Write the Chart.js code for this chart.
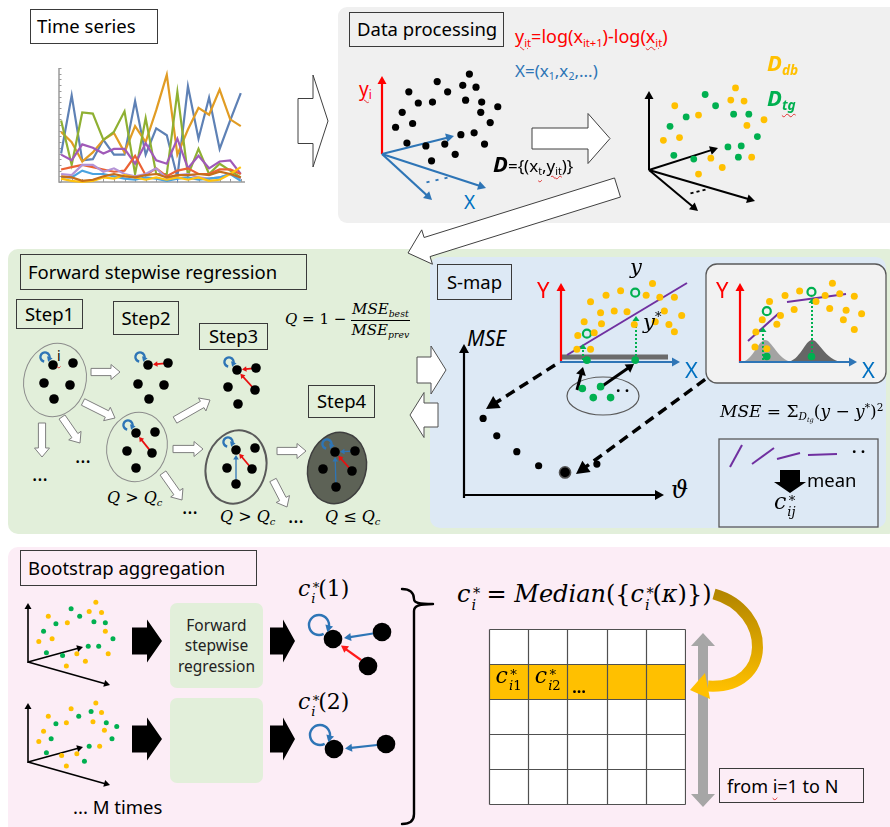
<!DOCTYPE html>
<html><head><meta charset="utf-8">
<script src="https://cdn.jsdelivr.net/npm/chart.js@4.4.1/dist/chart.umd.min.js"></script>
<style>
html,body{margin:0;padding:0;background:#fff;}
#root{position:relative;width:890px;height:827px;overflow:hidden;font-family:'Noto Sans',sans-serif;color:#000;}
.panel{position:absolute;z-index:0;}
#deco{position:absolute;left:0;top:0;z-index:1;}
canvas{position:absolute;z-index:2;}
.t{position:absolute;z-index:3;white-space:nowrap;line-height:1;transform:translateY(-50%);}
.box{position:absolute;z-index:3;border:1px solid #3a3a3a;box-sizing:border-box;font-size:18.5px;display:flex;align-items:center;white-space:nowrap;line-height:1;}
.m{font-family:'DejaVu Serif',serif;font-style:italic;}
sub{font-size:0.62em;vertical-align:-0.32em;line-height:0;}
sup{font-size:0.62em;vertical-align:0.6em;line-height:0;}
.ss{display:inline-block;position:relative;font-size:0.6em;line-height:1;vertical-align:-0.55em;margin-left:1px;margin-right:0.2em;font-style:normal;}
.ss>.a{position:absolute;left:0.1em;top:-0.85em;}
.sq{text-decoration:underline wavy #e03030;text-decoration-thickness:1px;text-underline-offset:3px;}
.frac{display:inline-flex;flex-direction:column;align-items:center;vertical-align:middle;}
.frac>span:first-child{border-bottom:1px solid #000;padding:0 1px 3px;}
.frac>span:last-child{padding-top:2px;}
</style></head>
<body><div id="root">
<div class="panel" style="left:338px;top:7px;width:560px;height:216px;background:#f0f0f0;border-radius:9px"></div>
<div class="panel" style="left:8px;top:249px;width:890px;height:285px;background:#e2efda;border-radius:10px"></div>
<div class="panel" style="left:430px;top:257px;width:456px;height:271px;background:#dde9f5;border-radius:10px"></div>
<div class="panel" style="left:8px;top:547px;width:890px;height:300px;background:#fcedf6;border-radius:10px"></div>
<svg id="deco" width="890" height="827"></svg>
</div>
<script>
// ================= DATA =================
// Time series panel: 18 time steps, 9 species (arbitrary abundance units 0-100)
const timeSteps = [1,2,3,4,5,6,7,8,9,10,11,12,13,14,15,16,17,18];
const tsYTicks = [0,5,10,15,20,25,30,35,40,45,50,55,60,65,70,75,80,85,90,95,100];
const tsBlue     = [25,76,19,20,37,24,24,71,24,47,41,4,84,38,74,29,54,78];
const tsOrange   = [44,35,18,26,37,43,26,49,35,63,94,24,46,65,59,81,55,49];
const tsGreen    = [54,15,61,60,37,44,62,7,56,7,7,79,6,29,7,16,10,4];
const tsPurple   = [24,19,33,30,25,29,29,16,34,19,16,38,12,23,12,18,19,7];
const tsRed      = [11,13,15,13,11,9,10,23,6,12,5,10,12,7,7,11,11,7];
const tsLavender = [7,6,15,15,9,12,7,5,7,12,3,6,7,4,3,4,7,3];
const tsSky      = [4,4,10,7,7,5,3,2,4,3,1,3,4,2,3,4,7,1];
const tsYellow   = [3,1,0,1,4,3,6,4,2,4,2,4,2,4,1,2,7,13];
const tsBrown    = [5,4,1,2,5,7,5,4,6,7,4,6,6,7,6,9,7,4];

// Data processing: embedded points D = {(x_t, y_it)} (local plot units)
const embedPts = [[89,83],[55,75],[25,64],[66,64],[82,71],[96,69],[35,52],[50,53],[85,55],[102,53],[119,48],[18,42],[101,42],[11,26],[29,30],[111,31],[80,18],[94,20],[23,9],[43,6],[63,8],[105,8],[74,-3],[49,-10]];
// split into database (D_db) and target (D_tg)
const dbPts = [[88,85],[83,72],[97,71],[24,66],[49,56],[118,51],[100,45],[12,29],[29,32],[62,10],[105,11],[74,0],[49,-7]];
const tgPts = [[56,78],[67,66],[86,57],[36,54],[102,57],[19,44],[111,33],[80,22],[94,23],[23,13],[44,9],[91,11]];

// S-map: MSE vs theta
const msePts = [[14,82],[29,61],[51,42],[75,25],[104,17],[139,27]];
const mseSize = [3.6,3.6,3.6,3.6,5.6,3.6];
// S-map middle plot (global linear fit)
const smapDb = [[94,84],[59,76],[43,71],[87,71],[102,69],[118,69],[26,64],[52,54],[37,52],[66,53],[107,54],[126,49],[19,42],[38,40],[97,42],[74,39],[112,39],[12,27],[30,30],[118,31],[11,12],[26,12]];
const smapObs = [[75,74],[22,29]];
const smapTgX = [[22,0],[75,0]];
const smapCloud = [[17,-31],[37,-29],[29,-41],[48,-41]];
// S-map inset (local weighted fit)
const insetDb = [[95,84],[43,70],[59,75],[87,70],[103,72],[119,69],[26,63],[77,63],[92,55],[53,54],[110,53],[127,49],[18,42],[38,47],[107,42],[34,37],[119,31],[11,28],[10,11],[23,9]];
const insetObs = [[23,52],[72,74]];
const insetTgX = [[23,0],[72,0]];

// Bootstrap resamples
const boot1Db = [[69,62],[19,47],[62,52],[75,51],[39,40],[79,31],[9,20],[23,23],[82,7],[49,7],[58,-1],[38,-6]];
const boot1Tg = [[43,55],[52,47],[27,39],[67,41],[79,40],[14,31],[87,23],[17,8],[34,5],[61,15],[72,15]];
const boot2Db = [[69,61],[43,55],[75,51],[19,47],[38,40],[66,41],[14,31],[78,32],[9,20],[33,5],[49,7],[73,15],[38,-6]];
const boot2Tg = [[64,52],[51,47],[27,39],[80,40],[91,36],[22,23],[86,23],[17,8],[62,15],[57,-1]];

// Interaction matrix c*_ij
const matrixCols = 5, matrixRows = 5, matrixHighlightRow = 1;
const matrixCellLabels = [[0,1,'i1'],[1,1,'i2'],[2,1,'…']];

// ================= HELPERS =================
const root = document.getElementById('root');
Chart.defaults.font.family = "'Noto Sans', sans-serif";
const f = v => (+v).toFixed(2);
let svg = '';

function mk(rect, xr, yr, type, datasets, extra = {}) {
  const c = document.createElement('canvas');
  c.width = rect[2]; c.height = rect[3];
  c.style.left = rect[0] + 'px'; c.style.top = rect[1] + 'px';
  root.appendChild(c);
  return new Chart(c, { type, data: { datasets }, options: {
    responsive: false, animation: false, events: [], devicePixelRatio: 1,
    layout: { padding: extra.padding || 0 },
    plugins: { legend: { display: false }, tooltip: { enabled: false } },
    scales: { x: { type: 'linear', display: false, min: xr[0], max: xr[1] },
              y: { type: 'linear', display: false, min: yr[0], max: yr[1], reverse: !!extra.reverse } } },
    plugins: extra.plugins || [] });
}
function dots(pts, r, col, hollow) {
  return { data: pts.map(p => ({ x: p[0], y: p[1] })), showLine: false,
    pointRadius: r, pointHoverRadius: r, backgroundColor: hollow ? 'rgba(0,0,0,0)' : col,
    borderColor: col, borderWidth: hollow ? 2.2 : 0, clip: false };
}
function plotAt(ox, oy, xmin, xmax, ymin, ymax, datasets) {
  return mk([ox + xmin, oy - ymax, xmax - xmin, ymax - ymin], [xmin, xmax], [ymin, ymax], 'scatter', datasets);
}
function line(x1, y1, x2, y2, col, w, extra = '') {
  svg += `<line x1="${f(x1)}" y1="${f(y1)}" x2="${f(x2)}" y2="${f(y2)}" stroke="${col}" stroke-width="${w}" ${extra}/>`;
}
function arrow(x1, y1, x2, y2, col, w, hl, hw, extra = '') {
  const dx = x2 - x1, dy = y2 - y1, L = Math.hypot(dx, dy), ux = dx / L, uy = dy / L, nx = -uy, ny = ux;
  const bx = x2 - ux * hl, by = y2 - uy * hl;
  line(x1, y1, bx + ux, by + uy, col, w, extra);
  svg += `<polygon points="${f(x2)},${f(y2)} ${f(bx + nx * hw)},${f(by + ny * hw)} ${f(bx - nx * hw)},${f(by - ny * hw)}" fill="${col}"/>`;
}
function block(x1, y1, x2, y2, sh, hh, hl, fill, stroke, sw) {
  const dx = x2 - x1, dy = y2 - y1, L = Math.hypot(dx, dy), ux = dx / L, uy = dy / L, nx = -uy, ny = ux;
  const bx = x2 - ux * hl, by = y2 - uy * hl;
  const p = [[x1 + nx * sh, y1 + ny * sh], [bx + nx * sh, by + ny * sh], [bx + nx * hh, by + ny * hh], [x2, y2],
             [bx - nx * hh, by - ny * hh], [bx - nx * sh, by - ny * sh], [x1 - nx * sh, y1 - ny * sh]];
  svg += `<polygon points="${p.map(q => f(q[0]) + ',' + f(q[1])).join(' ')}" fill="${fill}" stroke="${stroke}" stroke-width="${sw}"/>`;
}
function loop(cx, cy, r, a0, a1, col, w, hl, hw) {
  const R = Math.PI / 180, s0 = a0 * R, s1 = a1 * R;
  const sx = cx + r * Math.cos(s0), sy = cy + r * Math.sin(s0), ex = cx + r * Math.cos(s1), ey = cy + r * Math.sin(s1);
  const large = (a1 - a0) > 180 ? 1 : 0;
  svg += `<path d="M${f(sx)} ${f(sy)} A${r} ${r} 0 ${large} 1 ${f(ex)} ${f(ey)}" fill="none" stroke="${col}" stroke-width="${w}"/>`;
  const tx = -Math.sin(s1), ty = Math.cos(s1), nx = -ty, ny = tx;
  const tipx = ex + tx * hl * 0.7, tipy = ey + ty * hl * 0.7, bx = ex - tx * hl * 0.3, by = ey - ty * hl * 0.3;
  svg += `<polygon points="${f(tipx)},${f(tipy)} ${f(bx + nx * hw)},${f(by + ny * hw)} ${f(bx - nx * hw)},${f(by - ny * hw)}" fill="${col}"/>`;
}
function T(x, y, html, css = '', center = false) {
  const d = document.createElement('div'); d.className = 't';
  d.style.cssText = `left:${x}px;top:${y}px;` + css + (center ? ';transform:translate(-50%,-50%)' : '');
  d.innerHTML = html; root.appendChild(d); return d;
}
function box(x, y, w, h, html, css = '') {
  const d = document.createElement('div'); d.className = 'box';
  d.style.cssText = `left:${x}px;top:${y}px;width:${w}px;height:${h}px;` + css;
  d.innerHTML = '<span>' + html + '</span>'; root.appendChild(d); return d;
}
// c with stacked superscript * and subscript
const cs = (sub) => `<span class="m">c</span><span class="ss"><span class="a">*</span><span class="m">${sub}</span></span>`;

const RED = '#ff0000', BLUE = '#2e75b6', XBLUE = '#0070c0', GOLD = '#ffc000', GREEN = '#00b050', PURPLE = '#7030a0';

// ================= SVG DECORATION =================
svg += `<defs><linearGradient id="gold" x1="716" y1="592" x2="712" y2="690" gradientUnits="userSpaceOnUse"><stop offset="0" stop-color="#b38600"/><stop offset="1" stop-color="#ffc000"/></linearGradient></defs>`;
block(298, 121, 328, 121, 22.5, 46, 15, '#fff', '#404040', 1);
arrow(382, 154, 382, 76, RED, 2.2, 8, 4.5);
arrow(382, 154, 454, 136, BLUE, 2.2, 8, 4.5);
arrow(382, 154, 486, 188, BLUE, 2.2, 8, 4.5);
arrow(382, 154, 432, 200, BLUE, 2.2, 8, 4.5);
[[428, 182], [437, 180], [446, 178]].forEach(p => line(p[0] - 1.5, p[1] + 0.4, p[0] + 1.5, p[1] - 0.4, BLUE, 2));
block(532, 138.5, 610, 138.5, 10.5, 25, 22, '#fff', '#404040', 1);
arrow(649, 170, 649, 91, '#000', 2, 8, 4.5);
arrow(649, 170, 718, 148, '#000', 2, 8, 4.5);
arrow(649, 170, 755, 201, '#000', 2, 8, 4.5);
arrow(649, 170, 698, 211, '#000', 2, 8, 4.5);
[[692, 193], [698, 191.5], [704, 190]].forEach(p => line(p[0] - 1.5, p[1] + 0.4, p[0] + 1.5, p[1] - 0.4, '#000', 2));
block(617.5, 187.5, 408, 253, 10, 18, 20, '#fff', '#404040', 1);

// Forward stepwise regression graphs
const GRAPHS = [
  { n: [[53,365],[73,363],[44,383],[70,385],[54,399]], ell: [55,380,31,37,'none','#8c8c8c',1], red: [], blue: [] },
  { n: [[148,365],[168,363],[138,384],[164,385],[149,399]], ell: null, red: [[1,0]], blue: [] },
  { n: [[237,370],[256,368],[228,387],[255,390],[238,404]], ell: null, red: [[1,0],[3,0]], blue: [] },
  { n: [[136,433],[155,432],[127,451],[152,453],[136,468]], ell: [137,447,30,35,'none','#8c8c8c',1], red: [[3,0]], blue: [] },
  { n: [[236,450],[255,448],[227,468],[252,469],[236,484]], ell: [236,467,30,37,'none','#5a5a5a',2], red: [[3,0]], blue: [[4,0]] },
  { n: [[335,452],[355,451],[323,469],[352,471],[336,487]], ell: [337,468,29,36,'#5d6256','#3f3f3f',1.5], red: [[3,0]], blue: [[1,0],[4,0]] }
];
function edge(a, b, col, w) {
  const dx = b[0] - a[0], dy = b[1] - a[1], L = Math.hypot(dx, dy), ux = dx / L, uy = dy / L;
  arrow(a[0] + ux * 3, a[1] + uy * 3, b[0] - ux * 5, b[1] - uy * 5, col, w, 4.5, 2.8);
}
GRAPHS.forEach(g => {
  if (g.ell) { const e = g.ell; svg += `<ellipse cx="${e[0]}" cy="${e[1]}" rx="${e[2]}" ry="${e[3]}" fill="${e[4]}" stroke="${e[5]}" stroke-width="${e[6]}" transform="rotate(15 ${e[0]} ${e[1]})"/>`; }
  g.red.forEach(p => edge(g.n[p[0]], g.n[p[1]], '#e81010', 1.8));
  g.blue.forEach(p => edge(g.n[p[0]], g.n[p[1]], BLUE, 1.3));
  g.n.forEach(p => { svg += `<circle cx="${p[0]}" cy="${p[1]}" r="4.8" fill="#000"/>`; });
  loop(g.n[0][0] - 8, g.n[0][1] - 8, 4.6, 100, 380, BLUE, 2.4, 5, 3);
});
const SA = ['#fff', '#7f7f7f', 1];
[[91,372,120,372],[83,402,115,418],[42,423,42,457],[62,417,80,443],[175,420,210,400],[173,449,203,449],[163,473,182,500],[277,451,306,451],[273,480,287,507]]
  .forEach(a => block(a[0], a[1], a[2], a[3], 3.6, 7.5, 9, ...SA));
block(417, 370, 446, 370, 13, 24, 15, '#fff', '#505050', 1);
block(438, 415, 410, 415, 12, 22.5, 14, '#fff', '#505050', 1);

// S-map
arrow(464, 498, 464, 344, '#000', 2.2, 9, 5);
arrow(463, 495, 664, 495, '#000', 2.2, 9, 5);
arrow(555, 365, 486, 409, '#000', 3.5, 13, 7, 'stroke-dasharray="10,6"');
arrow(718, 370, 576, 474, '#000', 3.5, 13, 7, 'stroke-dasharray="10,6"');
svg += `<rect x="562" y="354.5" width="106" height="5" fill="#6b6b6b"/>`;
arrow(561, 363, 561, 283, RED, 2.2, 8, 4.5);
arrow(560, 362, 680, 362, BLUE, 2.2, 8, 4.5);
line(567, 355, 687, 283, PURPLE, 2);
arrow(583, 360, 583, 344, GREEN, 2, 5, 3.5, 'stroke-dasharray="2,2"');
arrow(636, 360, 636, 316, GREEN, 2, 5, 3.5, 'stroke-dasharray="2,2"');
svg += `<ellipse cx="603" cy="396" rx="36" ry="19" fill="none" stroke="#595959" stroke-width="1.2"/>`;
arrow(577, 390, 583, 367, '#000', 3, 8, 5);
arrow(598, 389, 634, 364, '#000', 3, 8, 5);
svg += `<rect x="706" y="264" width="180" height="119" rx="11" fill="#f2f2f2" stroke="#595959" stroke-width="1.3"/>`;
svg += `<path d="M741 362 C753 361 758 340 765 340 C772 340 778 360 792 362 Z" fill="#a3a3a3"/>`;
svg += `<path d="M787 362 C800 361 805 340 812 340 C819 340 825 360 842 362 Z" fill="#666"/>`;
arrow(740, 363, 740, 283, RED, 2.2, 8, 4.5);
arrow(739, 362, 857, 362, BLUE, 2.2, 8, 4.5);
line(748, 341, 779, 313, PURPLE, 2);
line(787, 302, 846, 294, PURPLE, 2);
arrow(763, 360, 763, 327, GREEN, 2, 5, 3.5, 'stroke-dasharray="2,2"');
arrow(812, 360, 812, 298, GREEN, 2, 5, 3.5, 'stroke-dasharray="2,2"');
svg += `<rect x="719" y="439" width="159" height="88" fill="none" stroke="#595959" stroke-width="1.3"/>`;
[[730,467,742,445],[752,464,774,448],[777,459,800,453],[808,455,837,454]].forEach(s => line(s[0], s[1], s[2], s[3], PURPLE, 2));
block(790, 470, 790, 493, 10, 16, 11, '#000', 'none', 0);

// Bootstrap
[[28, 662], [28, 762]].forEach(o => {
  arrow(o[0], o[1] + 1, o[0], o[1] - 59, '#000', 1.6, 6, 3.5);
  arrow(o[0], o[1], o[0] + 55, o[1] - 15, '#000', 1.6, 6, 3.5);
  arrow(o[0], o[1], o[0] + 82, o[1] + 23, '#000', 1.6, 6, 3.5);
});
[641, 739].forEach(y => {
  block(132, y, 162, y, 13.5, 21.5, 15, '#000', 'none', 0);
  block(270, y, 295, y, 13.5, 21.5, 12, '#000', 'none', 0);
});
svg += `<rect x="170" y="603" width="93" height="85" rx="7" fill="#e2efda"/>`;
svg += `<rect x="170" y="698" width="93" height="85" rx="7" fill="#e2efda"/>`;
arrow(373, 633.5, 344, 638, BLUE, 2.2, 7, 4);
arrow(361, 660, 341, 645.5, '#ff1a1a', 2.2, 7, 4);
arrow(377, 745, 345, 748.5, BLUE, 2.2, 7, 4);
[[333,639],[382,632],[368,666],[334,749],[386,744]].forEach(p => { svg += `<circle cx="${p[0]}" cy="${p[1]}" r="9.3" fill="#000"/>`; });
loop(319, 625, 10, 62, 375, BLUE, 2.4, 7, 4);
loop(320, 735, 10, 62, 375, BLUE, 2.4, 7, 4);
svg += `<path d="M402 589 C410 589 414 593 414 599 C414 603 419 604 433 604 M433 604 C419 604 414 606 414 611 L414 814 C414 821 410 824 402 824" fill="none" stroke="#000" stroke-width="2.4" stroke-linecap="round"/>`;
svg += `<polygon points="703,633 715,646 708,646 708,794 715,794 703,807 691,794 698,794 698,646 691,646" fill="#a6a6a6"/>`;
svg += `<path d="M714 594 C772 610 774 690 708 686" fill="none" stroke="url(#gold)" stroke-width="11"/>`;
svg += `<polygon points="690,690 705,673 710,699" fill="#ffc000"/>`;

document.getElementById('deco').innerHTML = svg;

// ================= CHARTS =================
const tsAxes = { id: 'tsAxes', beforeDatasetsDraw(ch) {
  const { ctx, chartArea: a, scales: { x, y } } = ch;
  ctx.save(); ctx.strokeStyle = '#9a9a9a'; ctx.lineWidth = 1.5; ctx.beginPath();
  ctx.moveTo(a.left, a.top); ctx.lineTo(a.left, a.bottom); ctx.lineTo(a.right, a.bottom); ctx.stroke();
  ctx.lineWidth = 1; ctx.beginPath();
  tsYTicks.forEach(v => { const py = Math.round(y.getPixelForValue(v)) + 0.5; ctx.moveTo(a.left, py); ctx.lineTo(a.left + 2.5, py); });
  timeSteps.forEach((t, i) => { const px = Math.round(x.getPixelForValue(i)) + 0.5; ctx.moveTo(px, a.bottom); ctx.lineTo(px, a.bottom - 3); });
  ctx.stroke(); ctx.restore(); } };
const tsSeries = [[tsBlue,'#5e81b5'],[tsOrange,'#e19c24'],[tsGreen,'#8fb032'],[tsPurple,'#a05ab8'],[tsRed,'#eb6235'],[tsLavender,'#b493d6'],[tsSky,'#4aa3df'],[tsYellow,'#ffc20e'],[tsBrown,'#c56e1a']];
mk([50, 60, 200, 126], [-0.2, 17.4], [0, 100], 'scatter',
  tsSeries.slice().reverse().map(s => ({ data: s[0].map((v, i) => ({ x: i, y: v })), showLine: true, borderColor: s[1], borderWidth: 2.2, pointRadius: 0, tension: 0, clip: false })),
  { padding: { left: 9, top: 8, right: 5, bottom: 4 }, plugins: [tsAxes] });

plotAt(382, 154, -8, 126, -16, 90, [dots(embedPts, 3.6, '#000')]);
plotAt(649, 170, -8, 126, -14, 92, [dots(dbPts, 3.4, GOLD), dots(tgPts, 3.4, GREEN)]);
plotAt(464, 495, -8, 150, 8, 92, [{ ...dots(msePts, 3.6, '#000'), pointRadius: mseSize, borderColor: '#555', borderWidth: [0,0,0,0,1.5,0] }]);
plotAt(561, 362, -4, 136, -50, 92, [dots(smapDb, 3.5, GOLD), dots(smapObs, 4, GREEN, true), dots(smapTgX, 3.8, GREEN), dots(smapCloud, 3.8, GREEN)]);
plotAt(740, 362, -4, 136, -6, 92, [dots(insetDb, 3.5, GOLD), dots(insetObs, 4, GREEN, true), dots(insetTgX, 3.8, GREEN)]);
plotAt(28, 662, -5, 96, -12, 68, [dots(boot1Db, 2.5, GOLD), dots(boot1Tg, 2.5, GREEN)]);
plotAt(28, 762, -5, 96, -12, 68, [dots(boot2Db, 2.5, GOLD), dots(boot2Tg, 2.5, GREEN)]);

const gridPlugin = { id: 'matrix', beforeDatasetsDraw(ch) {
  const { ctx, scales: { x, y } } = ch;
  const X = v => Math.round(x.getPixelForValue(v)) + 0.5, Y = v => Math.round(y.getPixelForValue(v)) + 0.5;
  ctx.save(); ctx.fillStyle = '#fff'; ctx.fillRect(X(0), Y(0), X(matrixCols) - X(0), Y(matrixRows) - Y(0));
  ctx.fillStyle = '#ffc000'; ctx.fillRect(X(0), Y(matrixHighlightRow), X(matrixCols) - X(0), Y(matrixHighlightRow + 1) - Y(matrixHighlightRow));
  ctx.strokeStyle = '#505050'; ctx.lineWidth = 1.2; ctx.beginPath();
  for (let i = 0; i <= matrixCols; i++) { ctx.moveTo(X(i), Y(0)); ctx.lineTo(X(i), Y(matrixRows)); }
  for (let j = 0; j <= matrixRows; j++) { ctx.moveTo(X(0), Y(j)); ctx.lineTo(X(matrixCols), Y(j)); }
  ctx.stroke(); ctx.restore(); } };
const gridChart = mk([488, 628, 198, 177], [0, matrixCols], [0, matrixRows], 'scatter', [{ data: [] }], { padding: 1, reverse: true, plugins: [gridPlugin] });
matrixCellLabels.forEach(c => {
  const px = 488 + gridChart.scales.x.getPixelForValue(c[0] + 0.5), py = 628 + gridChart.scales.y.getPixelForValue(c[1] + 0.5);
  if (c[2] === '…') T(px - 8, py + 5, '…', 'font-size:16px;font-weight:bold', true);
  else T(px - 13, py - 3, cs(`i<span style="font-style:normal">${c[2].slice(1)}</span>`), 'font-size:22px;font-family:DejaVu Serif');
});

// ================= TEXT =================
box(30, 9, 128, 35, 'Time series', 'padding-left:6px');
box(349, 12, 155, 35, 'Data processing', 'padding-left:7px');
box(20, 254, 287, 36, 'Forward stepwise regression', 'padding-left:7px');
box(16, 299, 67, 30, 'Step1', 'justify-content:center');
box(113, 301, 66, 34, 'Step2', 'justify-content:center');
box(199, 323, 69, 27, 'Step3', 'justify-content:center');
box(308, 385, 67, 33, 'Step4', 'justify-content:center');
box(437, 264, 75, 36, 'S-map', 'justify-content:center');
box(20, 550, 237, 36, 'Bootstrap aggregation', 'padding-left:7px');
box(719, 768, 145, 35, 'from <span class="sq">i</span>=1 to N', 'padding-left:7px;font-size:18px');

T(515, 36, '<span class="sq">y<sub>it</sub></span>=log(x<sub>it+1</sub>)-log(<span class="sq">x<sub>it</sub></span>)', `color:${RED};font-size:18px`);
T(515, 70, 'X=(x<sub>1</sub>,x<sub>2</sub>,...)', `color:${BLUE};font-size:17px`);
T(767, 62, '<b><i>D<sub>db</sub></i></b>', `color:${GOLD};font-size:22px`);
T(767, 97, '<b><i>D<sub class="sq">tg</sub></i></b>', `color:${GREEN};font-size:22px`);
T(359, 89, '<span class="sq">y<sub>i</sub></span>', `color:${RED};font-size:19px`);
T(464, 202, 'X', `color:${XBLUE};font-size:19px`);
T(493, 163, '<b><i style="font-size:22px">D</i></b>={(x<sub class="sq">t</sub>,<span class="sq">y<sub>it</sub></span>)}', 'font-size:17px');

T(57, 356, '<span class="sq">i</span>', 'font-size:14px');
T(285, 320, '<span class="m">Q</span> = 1 − <span class="frac m"><span>MSE<sub>best</sub></span><span>MSE<sub>prev</sub></span></span>', 'font-size:15px;font-family:DejaVu Serif');
T(107, 498, '<span class="m">Q</span> &gt; <span class="m">Q<sub>c</sub></span>', 'font-size:16px;font-family:DejaVu Serif');
T(220, 517, '<span class="m">Q</span> &gt; <span class="m">Q<sub>c</sub></span>', 'font-size:16px;font-family:DejaVu Serif');
T(325, 517, '<span class="m">Q</span> ≤ <span class="m">Q<sub>c</sub></span>', 'font-size:16px;font-family:DejaVu Serif');
[[75, 456], [32, 474], [182, 507], [288, 516]].forEach(p => T(p[0], p[1], '…', 'font-size:20px'));

T(467, 338, '<i>MSE</i>', 'font-size:21px');
T(671, 490, '<span class="m">ϑ</span>', 'font-size:24px;font-family:DejaVu Serif');
T(537, 289, 'Y', `color:${RED};font-size:22px`);
T(685, 369, 'X', `color:${XBLUE};font-size:22px`);
T(716, 289, 'Y', `color:${RED};font-size:22px`);
T(862, 369, 'X', `color:${XBLUE};font-size:22px`);
T(630, 267, '<span class="m">y</span>', 'font-size:21px;font-family:DejaVu Serif');
T(643, 322, '<span class="m">y</span><sup>*</sup>', 'font-size:21px;font-family:DejaVu Serif');
T(616, 390, '· ·', 'font-size:16px;font-weight:bold');
T(852, 451, '· ·', 'font-size:16px;font-weight:bold');
T(720, 412, '<span class="m">MSE</span> = Σ<sub><span class="m">D<sub>tg</sub></span></sub>(<span class="m">y</span> − <span class="m">y</span><sup>*</sup>)<sup>2</sup>', 'font-size:17px;font-family:DejaVu Serif');
T(807, 480, 'mean', 'font-size:18.5px');
T(774, 505, cs('ij'), 'font-size:22px;font-family:DejaVu Serif');

const gb = document.createElement('div');
gb.style.cssText = 'position:absolute;z-index:3;left:170px;top:603px;width:93px;height:85px;display:flex;align-items:center;justify-content:center;text-align:center;font-size:15.5px;line-height:20.5px;color:#222';
gb.innerHTML = 'Forward<br>stepwise<br>regression'; root.appendChild(gb);
T(298, 592, cs('i') + '(1)', 'font-size:22px;font-family:DejaVu Serif');
T(298, 705, cs('i') + '(2)', 'font-size:22px;font-family:DejaVu Serif');
T(73, 807, '... M times', 'font-size:18.5px');
T(457, 597, cs('i') + ' = <span class="m">Median</span>({' + cs('i') + '(<span class="m">κ</span>)})', 'font-size:24px;font-family:DejaVu Serif');
</script>
</body></html>
